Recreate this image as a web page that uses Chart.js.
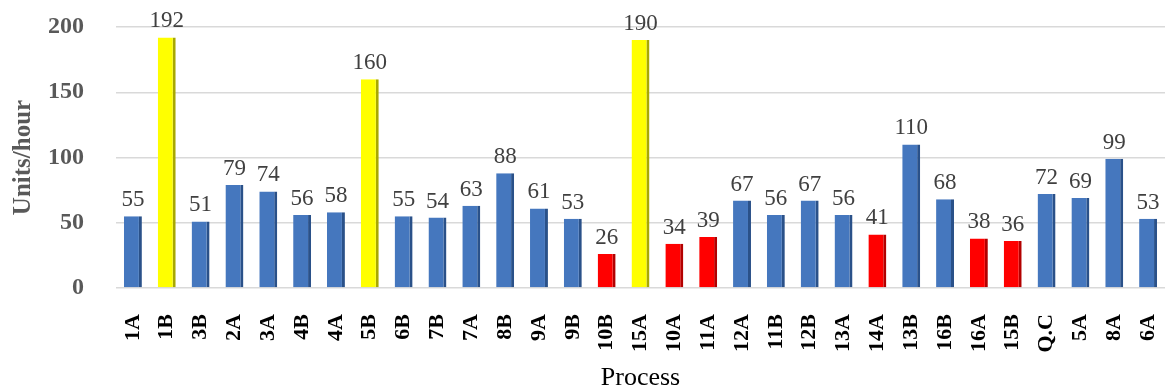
<!DOCTYPE html>
<html>
<head>
<meta charset="utf-8">
<script src="https://cdn.jsdelivr.net/npm/chart.js@4/dist/chart.umd.min.js"></script>
<style>
  html, body { margin: 0; padding: 0; background: #fff; }
  #wrap { width: 1166px; height: 391px; }
</style>
</head>
<body>
<div id="wrap"><canvas id="processChart"></canvas></div>
<script>
const processes = ['1A', '1B', '3B', '2A', '3A', '4B', '4A', '5B', '6B', '7B', '7A', '8B', '9A', '9B', '10B', '15A',
    '10A', '11A', '12A', '11B', '12B', '13A', '14A', '13B', '16B', '16A', '15B', 'Q.C', '5A', '8A', '6A'];
const unitsPerHour = [55, 192, 51, 79, 74, 56, 58, 160, 55, 54, 63, 88, 61, 53, 26, 190,
    34, 39, 67, 56, 67, 56, 41, 110, 68, 38, 36, 72, 69, 99, 53];
const yTicks = [0, 50, 100, 150, 200];

// bottleneck (yellow) and low-output (red) stations
function faceColor(v) {
    if (v >= 150) return '#ffff00';
    if (v < 45) return '#ff0000';
    return '#4577be';
}
function edgeColor(v) {
    if (v >= 150) return '#a8a800';
    if (v < 45) return '#b30000';
    return '#2a5189';
}

// value labels above each bar
const valueLabels = {
    id: 'valueLabels',
    afterDatasetsDraw(chart) {
        const ctx = chart.ctx;
        const meta = chart.getDatasetMeta(0);
        ctx.save();
        ctx.font = '23px "Liberation Serif", "Times New Roman", serif';
        ctx.fillStyle = '#404040';
        ctx.textAlign = 'center';
        ctx.textBaseline = 'alphabetic';
        meta.data.forEach(function(bar, i) {
            ctx.fillText(String(unitsPerHour[i]), bar.x, bar.y - 10);
        });
        ctx.restore();
    }
};

const ctx = document.getElementById('processChart').getContext('2d');
new Chart(ctx, {
    type: 'bar',
    data: {
        labels: processes,
        datasets: [{
            data: unitsPerHour,
            backgroundColor: unitsPerHour.map(faceColor),
            borderColor: unitsPerHour.map(edgeColor),
            borderWidth: { left: 0, right: 3, top: 0, bottom: 0 },
            borderSkipped: false,
            categoryPercentage: 1,
            barPercentage: 0.53
        }]
    },
    options: {
        responsive: true,
        maintainAspectRatio: false,
        animation: false,
        layout: { padding: { top: 27, right: 1, left: 0, bottom: 0 } },
        plugins: {
            legend: { display: false },
            tooltip: { enabled: false }
        },
        scales: {
            x: {
                grid: { display: false },
                border: { display: false },
                ticks: {
                    minRotation: 90,
                    maxRotation: 90,
                    autoSkip: false,
                    padding: 18,
                    color: '#000',
                    font: { family: '"Liberation Serif", "Times New Roman", serif', size: 22, weight: 'bold' }
                },
                title: {
                    display: true,
                    text: 'Process',
                    color: '#000',
                    padding: 0,
                    font: { family: '"Liberation Serif", "Times New Roman", serif', size: 26, lineHeight: 1 }
                },
                afterFit(scale) {
                    scale.height = 103;
                    scale.paddingLeft = 0;
                    scale.paddingRight = 0;
                }
            },
            y: {
                min: 0,
                max: 200,
                afterBuildTicks(scale) { scale.ticks = yTicks.map(v => ({ value: v })); },
                grid: { color: '#d9d9d9', lineWidth: 1.5, drawTicks: false },
                border: { display: false },
                ticks: {
                    padding: 32,
                    color: '#595959',
                    font: { family: '"Liberation Serif", "Times New Roman", serif', size: 24, weight: 'bold' }
                },
                title: {
                    display: true,
                    text: 'Units/hour',
                    color: '#595959',
                    padding: { top: 11, bottom: 0 },
                    font: { family: '"Liberation Serif", "Times New Roman", serif', size: 25, weight: 'bold', lineHeight: 1 }
                },
                afterFit(scale) {
                    scale.width = 116;
                    scale.paddingTop = 0;
                    scale.paddingBottom = 0;
                }
            }
        }
    },
    plugins: [valueLabels]
});
</script>
</body>
</html>
